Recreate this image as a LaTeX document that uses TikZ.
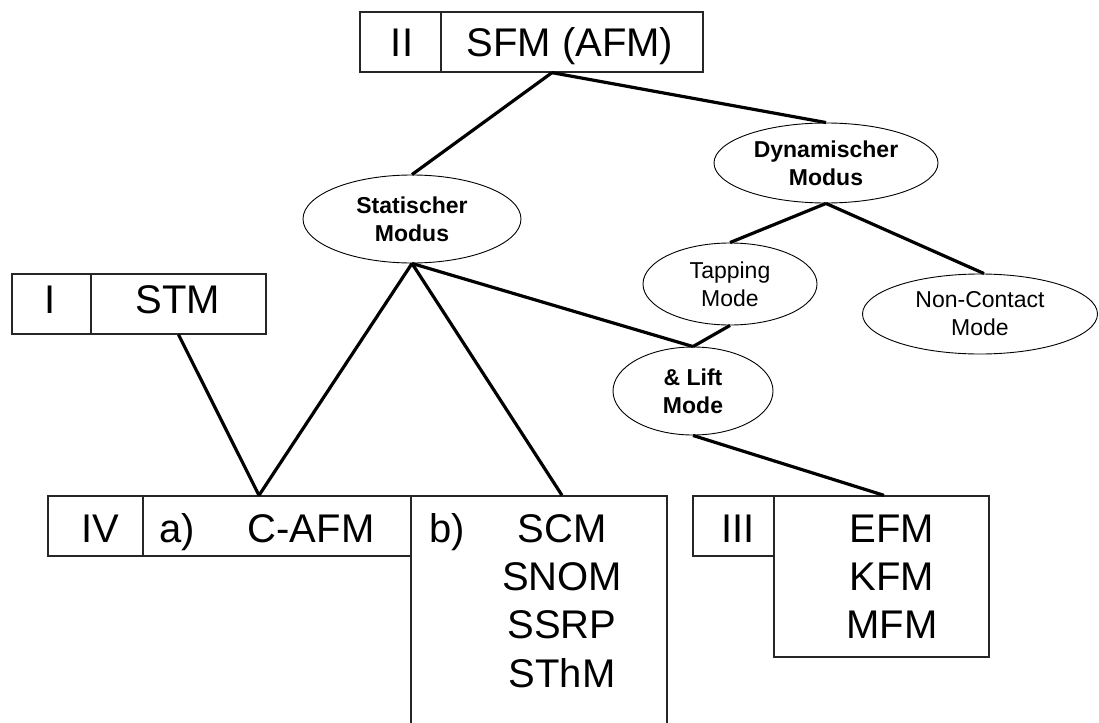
\documentclass[tikz,border=0pt]{standalone}
\usepackage{fontspec}
\setmainfont{Liberation Sans}
\usetikzlibrary{shapes.geometric}
\begin{document}
\begin{tikzpicture}[x=1pt,y=-1pt,
  cell/.style={draw=black!85, line width=1.3pt, inner sep=0, minimum height=60pt},
  bigtxt/.style={font=\fontsize{40}{48}\selectfont, inner sep=0, anchor=base},
  oval/.style={draw=black, line width=0.9pt, ellipse, inner sep=0, align=center},
  boldoval/.style={oval, font=\fontsize{23}{28}\selectfont\bfseries},
  normoval/.style={oval, font=\fontsize{23}{28}\selectfont},
  conn/.style={line width=3.2pt, black}
]
\useasboundingbox (0,0) rectangle (1099,722);

% boxes
\node[cell, minimum width=81pt] (iicell) at (400.5,42) {};
\node[cell, minimum width=262pt] (sfm) at (572,42) {};
\node[cell, minimum width=79pt] (icell) at (51.5,304) {};
\node[cell, minimum width=175pt] (stm) at (178.5,304) {};
\node[cell, minimum width=95pt] (ivcell) at (95.5,526) {};
\node[cell, minimum width=268pt] (cafm) at (277,526) {};
\node[cell, minimum width=256pt, minimum height=234pt] (bbox) at (539,613) {};
\node[cell, minimum width=81pt] (iiicell) at (733.5,526) {};
\node[cell, minimum width=215pt, minimum height=161pt] (efmbox) at (881.5,576.5) {};

% box texts
\node[bigtxt] (tII) at (402,57) {II};
\node[bigtxt] (tSFM) at (570,57) {SFM (AFM)};
\node[bigtxt] (tI) at (50,313) {I};
\node[bigtxt] (tSTM) at (178,313) {STM};
\node[bigtxt] (tIV) at (100,542) {IV};
\node[bigtxt] (ta) at (177,542) {a)};
\node[bigtxt] (tCAFM) at (311,542) {C-AFM};
\node[bigtxt] (tb) at (447,542) {b)};
\node[bigtxt] (tSCM) at (562,542) {SCM};
\node[bigtxt] (tSNOM) at (562,590) {SNOM};
\node[bigtxt] (tSSRP) at (562,638) {SSRP};
\node[bigtxt] (tSThM) at (562,687) {SThM};
\node[bigtxt] (tIII) at (738,542) {III};
\node[bigtxt] (tEFM) at (892,542) {EFM};
\node[bigtxt] (tKFM) at (892,590) {KFM};
\node[bigtxt] (tMFM) at (892,638) {MFM};

% ellipses
\node[boldoval, minimum width=218pt, minimum height=88pt] (stat) at (412,219) {Statischer\\Modus};
\node[boldoval, minimum width=224pt, minimum height=80pt] (dyn) at (826,163) {Dynamischer\\Modus};
\node[normoval, minimum width=174pt, minimum height=82pt] (tap) at (730,284) {Tapping\\Mode};
\node[normoval, minimum width=235pt, minimum height=80pt] (nc) at (980,314) {Non-Contact\\Mode};
\node[boldoval, minimum width=160pt, minimum height=88pt] (lift) at (693,391) {\& Lift\\Mode};

% connectors
\draw[conn] ([xshift=-20pt]sfm.south) -- (stat.north);
\draw[conn] ([xshift=-20pt]sfm.south) -- (dyn.north);
\draw[conn] (dyn.south) -- (tap.north);
\draw[conn] (dyn.south) -- ([xshift=4pt]nc.north);
\draw[conn] (stat.south) -- ([xshift=-18pt]cafm.north);
\draw[conn] (stm.south) -- ([xshift=-18pt]cafm.north);
\draw[conn] (stat.south) -- ([xshift=23pt]bbox.north);
\draw[conn] (stat.south) -- (lift.north);
\draw[conn] (tap.south) -- (lift.north);
\draw[conn] (lift.south) -- ([xshift=2.5pt]efmbox.north);
\end{tikzpicture}
\end{document}
